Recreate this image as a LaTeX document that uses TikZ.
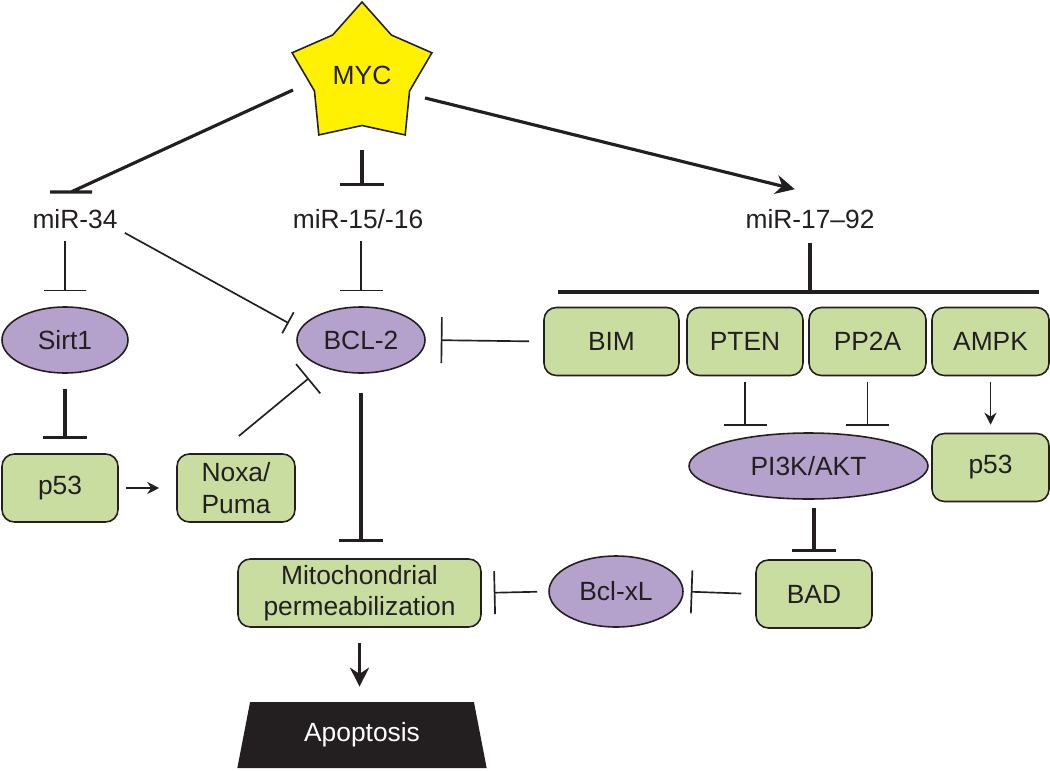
\documentclass[tikz,border=0pt]{standalone}
\usepackage{fontspec}
\setmainfont{Liberation Sans}
\usetikzlibrary{shapes.geometric,arrows.meta}
\definecolor{mycyellow}{RGB}{255,241,0}
\definecolor{boxgreen}{RGB}{201,221,160}
\definecolor{ovalpurple}{RGB}{180,162,204}
\definecolor{ink}{RGB}{35,31,32}
\tikzset{
  lbl/.style={font=\fontsize{15}{18}\selectfont, inner sep=0pt, text=ink},
  gbox/.style={lbl, draw=ink, line width=0.9pt, fill=boxgreen, rounded corners=7pt, minimum height=1.36cm, align=center},
  oval/.style={lbl, draw=ink, line width=0.9pt, fill=ovalpurple, ellipse, minimum height=1.32cm},
  inh/.style={draw=ink, line width=0.95pt, -{Bar[width=0.86cm]}},
  inhthick/.style={draw=ink, line width=1.8pt, -{Bar[width=0.88cm]}},
  act/.style={draw=ink, line width=0.95pt, -{Stealth[length=0.24cm, width=0.24cm]}},
  actthick/.style={draw=ink, line width=1.8pt, -{Stealth[length=0.38cm, width=0.38cm]}}
}
\begin{document}
\begin{tikzpicture}[x=0.02cm, y=-0.02cm]
\useasboundingbox (0,0) rectangle (1050,770);
% MYC and its three microRNAs
\node[lbl, star, star points=5, star point ratio=1.47, minimum size=2.94cm, draw=ink, line width=0.9pt, fill=mycyellow] (myc) at (362,75.5) {MYC};
\node[lbl] (mir34) at (75,219) {miR-34};
\node[lbl] (mir1516) at (358,219) {miR-15/-16};
\node[lbl] (mir1792) at (810,219) {miR-17--92};
\coordinate (mycL) at (293,90);
\coordinate (bar34) at (71,192);
\coordinate (mycR) at (425,98);
\draw[draw=ink, line width=1.8pt] (mycL) -- (bar34) ++(-21,0) -- ++(42,0);
\draw[inhthick, shorten <=1.49cm, shorten >=0.45cm] (myc.center) -- (myc.center |- mir1516.north);
\draw[actthick, shorten >=1.65cm] (mycR) -- (mir1792.north east);
% left branch
\node[oval, minimum width=2.52cm] (sirt1) at (65,340) {Sirt1};
\node[oval, minimum width=2.56cm] (bcl2) at (361,340) {BCL-2};
\node[gbox, minimum width=2.32cm] (p53a) at (60,488) {p53};
\node[gbox, minimum width=2.36cm] (noxa) at (236,488) {Noxa/\\Puma};
\node[gbox, minimum width=4.86cm] (mito) at (359.5,593) {Mitochondrial\\permeabilization};
\node[lbl, trapezium, trapezium left angle=75, trapezium right angle=75, trapezium stretches=true, minimum width=5cm, minimum height=1.32cm, fill=ink, text=white] (apop) at (362,735) {Apoptosis};
\draw[inh, shorten <=0.23cm, shorten >=0.3cm] (mir34.south -| sirt1) -- (sirt1.north);
\draw[inh, -{Bar[width=0.48cm]}, shorten <=0.16cm, shorten >=0.25cm] (mir34.south east) -- (bcl2.170);
\draw[inh, shorten <=0.23cm, shorten >=0.3cm] (mir1516.south -| bcl2) -- (bcl2.north);
\draw[inhthick, shorten <=0.3cm, shorten >=0.29cm] (sirt1.south) -- (sirt1.south |- p53a.north);
\draw[act, shorten <=0.14cm, shorten >=0.34cm] (p53a.east) -- (noxa.west);
\draw[inh, -{Bar[width=0.76cm]}, shorten <=0.54cm, shorten >=0.35cm] ([xshift=-0.36cm]noxa.north) -- (bcl2.215);
\draw[inhthick, shorten <=0.38cm, shorten >=0.32cm] (bcl2.south) -- (bcl2.south |- mito.north);
\draw[actthick, shorten <=0.3cm, shorten >=0.3cm] (mito.south) -- (mito.south |- apop.north);
% right branch
\coordinate (brL) at (558,292);
\coordinate (brR) at (1039,292);
\draw[draw=ink, line width=1.8pt] (brL) -- (brR);
\draw[draw=ink, line width=1.8pt, shorten <=0.27cm] (mir1792.south) -- (mir1792.south |- brL);
\foreach \n/\t/\x/\w in {bim/BIM/611.5/2.7cm, pten/PTEN/745/2.32cm, pp2a/PP2A/867.5/2.34cm, ampk/AMPK/990.5/2.34cm} {
  \node[gbox, minimum width=\w] (\n) at (\x,341.5) {\t};
}
\node[oval, minimum width=4.78cm] (pi3k) at (808.5,466) {PI3K/AKT};
\node[gbox, minimum width=2.34cm] (p53b) at (990.5,467.5) {p53};
\node[gbox, minimum width=2.32cm] (bad) at (814,594) {BAD};
\node[oval, minimum width=2.68cm, minimum height=1.42cm] (bclxl) at (616,591.5) {Bcl-xL};
\draw[inh, -{Bar[width=0.92cm]}, shorten <=0.28cm, shorten >=0.3cm] (bim.west) -- (bcl2.east);
\draw[inh, shorten <=0.12cm, shorten >=0.13cm] (pten.south) -- (pten.south |- pi3k.north);
\draw[inh, shorten <=0.12cm, shorten >=0.13cm] (pp2a.south) -- (pp2a.south |- pi3k.north);
\draw[act, shorten <=0.12cm, shorten >=0.16cm] (ampk.south) -- (p53b.north);
\draw[inhthick, shorten <=0.17cm, shorten >=0.14cm] (pi3k.south -| bad) -- (bad.north);
\draw[inh, shorten <=0.28cm, shorten >=0.14cm] (bad.west) -- (bclxl.east);
\draw[inh, shorten <=0.22cm, shorten >=0.24cm] (bclxl.west) -- (mito.east);
\end{tikzpicture}
\end{document}
